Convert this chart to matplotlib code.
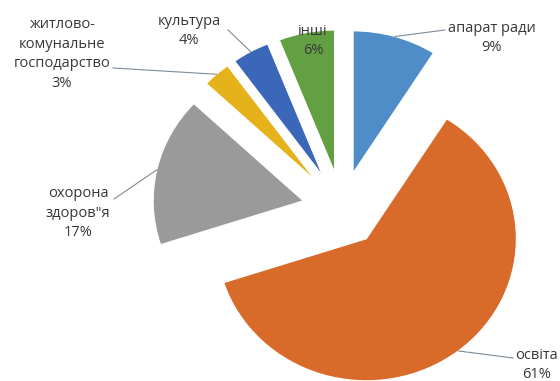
import matplotlib
matplotlib.use('Agg')
import matplotlib.pyplot as plt
import numpy as np

labels = ['апарат ради', 'освіта', 'охорона\nздоров"я', 'житлово-\nкомунальне\nгосподарство', 'культура', 'інші']
shares = [9, 61, 17, 3, 4, 6]
colors = ['#4f8dc8', '#d86a2a', '#9a9a9a', '#e6b21c', '#3a67b8', '#62a043']

W, H = 560, 381
CX, CY = 342, 209      # pie centre in pixels
RX, RY = 150, 142      # the source image is a bit stretched sideways


def px(x, y):
    # pixel position (top-left origin) -> data units
    return (x - CX) / RX, (CY - y) / RY


# label block centres and leader line ends, in pixels
label_pos = [(492, 38), (537, 365), (78, 213), (62, 54), (189, 31), (313, 41)]
leader_end = [(445, 30), (513, 358), (114, 199), (113, 68), (228, 30), None]

plt.rcParams['font.family'] = ['Open Sans', 'DejaVu Sans']

fig = plt.figure(figsize=(W / 100, H / 100), dpi=100)
ax = fig.add_axes([0, 0, 1, 1])

explode = [0.265] * len(shares)
wedges, _ = ax.pie(shares, colors=colors, startangle=90, counterclock=False,
                   explode=explode, radius=1,
                   wedgeprops=dict(edgecolor='white', linewidth=0.8))

ax.set_aspect('auto')
ax.set_xlim(-CX / RX, (W - CX) / RX)
ax.set_ylim((CY - H) / RY, CY / RY)
ax.axis('off')

for w, lab, val, pos, end in zip(wedges, labels, shares, label_pos, leader_end):
    tx, ty = px(*pos)
    ax.text(tx, ty, f'{lab}\n{val}%', ha='center', va='center', fontsize=10.5,
            color='#383838', linespacing=1.45)
    if end is None:
        continue
    mid = np.deg2rad((w.theta1 + w.theta2) / 2)
    sx = w.center[0] + w.r * np.cos(mid)
    sy = w.center[1] + w.r * np.sin(mid)
    ex, ey = px(*end)
    ax.plot([sx, ex], [sy, ey], color='#7f8b96', lw=0.8)

fig.savefig('out.png', dpi=100)
